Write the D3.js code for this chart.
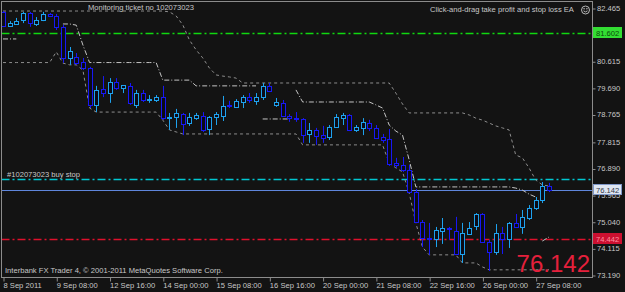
<!DOCTYPE html>
<html><head><meta charset="utf-8">
<script src="https://cdn.jsdelivr.net/npm/d3@7/dist/d3.min.js"></script>
<style>
html,body{margin:0;padding:0;background:#131313;}
svg{display:block;font-family:"Liberation Sans",Arial,sans-serif;}
</style></head>
<body>
<svg id="chart" width="625" height="292"></svg>
<script>
// ---- data (USDJPY-like H4 bars, 8 Sep 2011 00:00 .. 27 Sep 2011 16:00) ----
const open = [82.33,81.84,81.91,82.05,82.29,81.91,82.05,82.26,82.19,81.81,
80.73,80.76,80.59,80.38,79.10,79.65,79.51,79.90,79.69,79.76,
79.10,79.51,79.28,79.27,79.37,78.64,78.68,78.78,78.47,78.64,
78.71,78.26,78.68,78.71,79.08,79.03,79.20,79.37,79.24,79.37,
79.76,79.10,79.17,78.71,78.66,78.61,78.09,78.23,78.05,77.98,
78.33,78.64,78.75,78.23,78.30,78.47,78.30,77.98,77.92,77.08,
77.01,76.84,76.07,75.03,74.48,74.44,74.72,74.81,74.72,73.92,
74.62,74.89,75.31,74.34,73.99,74.65,74.44,75.00,74.86,75.17,
75.52,75.80,76.28];
const high = [82.36,82.01,82.12,82.33,82.33,82.15,82.33,82.29,82.26,81.88,
81.11,80.90,80.73,80.42,79.76,80.10,80.03,80.03,79.79,79.86,
79.62,79.62,79.44,79.44,79.76,78.82,78.96,78.82,78.82,78.82,
78.85,78.71,78.85,79.41,79.24,79.30,79.44,79.51,79.51,79.86,
79.86,79.34,79.27,78.78,78.85,78.64,78.47,78.30,78.37,78.40,
78.78,78.82,78.78,78.40,78.64,78.58,78.40,78.09,78.26,77.26,
77.29,77.01,76.18,75.10,75.00,74.86,75.17,74.86,75.21,75.00,
75.03,75.34,75.34,74.41,74.96,74.86,75.03,75.31,75.45,75.62,
75.90,76.42,76.39];
const low = [81.81,81.81,81.88,81.94,81.81,81.84,82.01,82.15,81.70,80.56,
80.49,80.49,80.31,78.99,78.85,79.37,79.17,79.62,79.51,79.10,
78.99,79.20,79.17,79.20,78.58,78.23,78.30,78.05,78.37,78.58,
78.16,78.05,78.40,78.54,78.99,78.99,78.99,79.17,79.10,79.27,
79.55,79.03,78.68,78.51,78.51,77.78,77.78,77.71,77.78,77.88,
78.30,78.40,78.19,78.16,78.05,78.19,77.92,77.78,76.98,76.91,
76.77,76.04,75.00,74.16,73.89,74.16,74.27,74.41,73.89,73.61,
74.58,74.75,74.30,73.33,73.89,73.92,74.13,74.82,74.62,75.10,
75.45,75.69,76.07];
const close = [81.84,81.94,82.01,82.29,81.94,82.05,82.26,82.19,81.81,80.73,
80.97,80.56,80.38,79.10,79.62,79.51,79.90,79.69,79.79,79.17,
79.51,79.27,79.31,79.37,78.64,78.68,78.82,78.44,78.68,78.75,
78.23,78.68,78.78,79.06,79.06,79.24,79.37,79.27,79.37,79.76,
79.58,79.20,78.71,78.64,78.64,78.05,78.23,78.02,77.95,78.33,
78.68,78.75,78.23,78.33,78.51,78.30,77.95,77.88,77.05,77.01,
76.84,76.07,75.03,74.48,74.46,74.75,74.82,74.77,73.92,74.65,
74.82,75.31,74.34,73.99,74.65,74.44,75.00,74.86,75.21,75.52,
75.80,76.28,76.142];

// channel indicator lines (one value per bar)
const upperChannel = [82.36,82.36,82.36,82.36,82.36,82.36,82.36,82.36,82.36,82.36,
82.36,82.36,82.36,82.36,82.36,82.36,82.36,82.36,82.36,82.36,
82.36,82.36,82.36,82.36,82.36,82.33,82.19,81.88,81.35,81.01,
80.73,80.38,80.14,80.10,80.07,80.03,79.86,79.86,79.86,79.86,
79.86,79.86,79.86,79.86,79.86,79.86,79.86,79.86,79.86,79.86,
79.86,79.86,79.86,79.86,79.86,79.86,79.86,79.86,79.86,79.51,
79.13,78.82,78.82,78.82,78.82,78.82,78.82,78.82,78.82,78.82,
78.75,78.64,78.57,78.47,78.37,78.30,78.23,77.36,77.26,76.91,
76.49,76.32,76.28];
const lowerChannel = [80.57,80.57,80.57,80.57,80.57,80.57,80.57,80.57,80.94,80.55,
80.49,80.49,80.31,78.99,78.85,78.85,78.85,78.85,78.85,78.85,
78.85,78.85,78.85,78.85,78.57,78.23,78.16,78.09,78.09,78.09,
78.09,78.09,78.09,78.09,78.09,78.09,78.09,78.09,78.09,78.09,
78.09,78.09,78.09,78.09,78.09,77.71,77.71,77.71,77.71,77.71,
77.71,77.71,77.71,77.71,77.71,77.71,77.71,77.71,77.08,76.91,
76.77,76.04,75.00,74.16,73.89,73.89,73.89,73.89,73.89,73.61,
73.61,73.61,73.47,73.37,73.37,73.37,73.37,73.37,73.37,73.37,
73.37,73.37,73.37];
const trailResist = [null,null,null,null,null,null,null,null,null,81.91,
81.91,81.87,81.18,80.57,80.57,80.57,80.57,80.57,80.57,80.57,
80.57,80.57,80.57,80.57,79.96,79.96,79.96,79.96,79.96,79.76,
79.76,79.76,79.76,79.76,79.76,79.76,79.76,79.76,79.76,null,
null,null,null,null,79.62,79.20,79.20,79.20,79.20,79.20,
79.20,79.20,79.20,79.20,79.20,79.20,79.10,78.99,78.40,78.19,
78.05,77.19,76.25,76.25,76.25,76.25,76.25,76.25,76.25,76.25,
76.25,76.25,76.25,76.25,76.25,76.25,76.25,76.21,76.14,76.00,
75.90,null,null];
const trailSupport = [81.39,81.39,81.39,null,null,null,null,null,null,null,
null,null,null,null,null,null,null,null,null,null,
null,null,null,null,null,null,null,null,null,null,
null,null,null,null,null,null,null,null,null,78.61,
78.61,78.61,78.61,78.61,null,null,null,null,null,null,
null,null,null,null,null,null,null,null,null,null,
null,null,null,null,null,null,null,null,null,null,
null,null,null,null,null,null,null,null,null,null,
null,74.37,74.51];

const xTickLabels = ["8 Sep 2011","9 Sep 08:00","12 Sep 16:00","14 Sep 00:00","15 Sep 08:00",
  "16 Sep 16:00","20 Sep 00:00","21 Sep 08:00","22 Sep 16:00","26 Sep 00:00","27 Sep 08:00"];
const xTickBars = [0,8,16,24,32,40,48,56,64,72,80];
// 81.540 sits fully under the take-profit box in the reference, so it is not listed
const yTickValues = [82.465,80.615,79.690,78.765,77.815,76.890,75.965,75.040,74.115,73.190];

const levelTakeProfit = 81.602;
const levelBuyStop = 76.515;
const levelBid = 76.142;
const levelStopLoss = 74.442;

// ---- drawing ----
const W = 625, H = 292;
const plotL = 1.5, plotR = 592.5, plotT = 1.5, plotB = 277.5;
const svg = d3.select("#chart");
const x = d3.scaleLinear().domain([0, close.length - 1]).range([3, 549]);
const y = d3.scaleLinear().domain([73.19, 82.465]).range([275, 8]);
const fmt = d3.format(".3f");
const txtCol = "#c8c8c8";

svg.append("rect").attr("width", W).attr("height", H).attr("fill", "#131313");

svg.append("defs").append("clipPath").attr("id","pc")
  .append("rect").attr("x", plotL).attr("y", plotT).attr("width", plotR-plotL).attr("height", plotB-plotT);
const plot = svg.append("g").attr("clip-path","url(#pc)");

const snap = v => Math.round(v) + 0.5;

// horizontal order lines
function hline(v, color, dash, width) {
  plot.append("line").attr("x1", plotL).attr("x2", plotR)
    .attr("y1", snap(y(v))).attr("y2", snap(y(v)))
    .attr("stroke", color).attr("stroke-width", width || 1)
    .attr("stroke-dasharray", dash || null);
}
hline(levelTakeProfit, "#10d810", "8,3,2,3", 1.3);
hline(levelBuyStop, "#00c8d2", "8,3,2,3", 1.3);
hline(levelStopLoss, "#e0102c", "8,3,2,3", 1.3);
hline(levelBid, "#5f86dc", null);

// channel lines
const lineGen = d3.line().defined(d => d != null).x((d, i) => x(i)).y(d => y(d));
plot.append("path").attr("d", lineGen(upperChannel)).attr("fill","none")
  .attr("stroke","#8e8e8e").attr("stroke-dasharray","3,3");
plot.append("path").attr("d", lineGen(lowerChannel)).attr("fill","none")
  .attr("stroke","#8e8e8e").attr("stroke-dasharray","3,3");
plot.append("path").attr("d", lineGen(trailResist)).attr("fill","none")
  .attr("stroke","#c4c4c4").attr("stroke-dasharray","5,2,1,2");
plot.append("path").attr("d", lineGen(trailSupport)).attr("fill","none")
  .attr("stroke","#c4c4c4").attr("stroke-dasharray","5,2,1,2");

// candles
const bullCol = "#1ea2ee", bearCol = "#1818f4";
const candles = plot.append("g").selectAll("g").data(close.map((c, i) => ({i, o: open[i], h: high[i], l: low[i], c})))
  .join("g");
candles.append("line")
  .attr("x1", d => snap(x(d.i))).attr("x2", d => snap(x(d.i)))
  .attr("y1", d => y(d.h)).attr("y2", d => y(d.l))
  .attr("stroke", d => d.c > d.o ? bullCol : bearCol);
candles.append("rect")
  .attr("x", d => snap(x(d.i)) - 2)
  .attr("width", 4)
  .attr("y", d => Math.round(y(Math.max(d.o, d.c))) + 0.5)
  .attr("height", d => Math.max(1, Math.round(Math.abs(y(d.o) - y(d.c)))))
  .attr("fill", "#0b0b16")
  .attr("stroke", d => d.c > d.o ? bullCol : bearCol);

// frame
svg.append("rect").attr("x", plotL).attr("y", plotT).attr("width", plotR-plotL).attr("height", plotB-plotT)
  .attr("fill","none").attr("stroke","#8c8c8c");

// y axis
const yAxis = svg.append("g").attr("transform", `translate(${plotR},0)`)
  .call(d3.axisRight(y).tickValues(yTickValues).tickSize(3).tickFormat(fmt));
yAxis.select(".domain").remove();
yAxis.selectAll(".tick line").attr("stroke","#8c8c8c").attr("transform","translate(0,0.5)");
yAxis.selectAll(".tick text").attr("fill", txtCol).attr("font-size","7.6px")
  .attr("x", 4.5).attr("dy", "0.32em").attr("font-family","Liberation Sans, Arial, sans-serif");

// x axis
const xAxis = svg.append("g").attr("transform", `translate(0,${plotB})`)
  .call(d3.axisBottom(x).tickValues(xTickBars).tickSize(4).tickFormat((d, i) => xTickLabels[i]));
xAxis.select(".domain").remove();
xAxis.selectAll(".tick line").attr("stroke","#8c8c8c").attr("transform","translate(0.5,0)");
xAxis.selectAll(".tick text").attr("fill", txtCol).attr("font-size","7.6px")
  .attr("text-anchor","start").attr("y", 10.5).attr("dy", null).attr("x", 0)
  .attr("font-family","Liberation Sans, Arial, sans-serif");

// price label boxes on the axis
function priceBox(v, bg, fg, border) {
  const yy = Math.round(y(v));
  svg.append("rect").attr("x", 593.5).attr("y", yy - 5.5).attr("width", 28).attr("height", 10)
    .attr("fill", bg).attr("stroke", border || bg);
  svg.append("text").attr("x", 596).attr("y", yy + 3).attr("fill", fg)
    .attr("font-size","7.6px").text(fmt(v));
}
priceBox(levelTakeProfit, "#33dd33", "#0a4a0a");
priceBox(levelBid, "#dfe6f2", "#303848", "#7f97c8");
priceBox(levelStopLoss, "#cc1030", "#ff8fa0");

// texts
svg.append("text").attr("x", 88).attr("y", 9.5).attr("fill", txtCol).attr("font-size","7.6px")
  .text("Monitoring ticket no 102073023");
svg.append("text").attr("x", 430).attr("y", 12).attr("fill", txtCol).attr("font-size","7.6px")
  .text("Click-and-drag take profit and stop loss EA");
// smiley icon
const sm = svg.append("g").attr("transform","translate(585.5,10)").attr("fill","none").attr("stroke","#b8b8b8");
sm.append("circle").attr("r", 4);
sm.append("path").attr("d","M-2,0.8 Q0,3 2,0.8");
sm.append("circle").attr("cx",-1.4).attr("cy",-1.2).attr("r",0.4);
sm.append("circle").attr("cx",1.4).attr("cy",-1.2).attr("r",0.4);

svg.append("text").attr("x", 7).attr("y", y(levelBuyStop) - 2.5).attr("fill", txtCol).attr("font-size","7.6px")
  .text("#102073023 buy stop");
svg.append("text").attr("x", 5).attr("y", 273).attr("fill", txtCol).attr("font-size","7.6px")
  .text("Interbank FX Trader 4, \u00a9 2001-2011 MetaQuotes Software Corp.");
svg.append("text").attr("x", 590).attr("y", 271.5).attr("text-anchor","end").attr("fill","#e5203c")
  .attr("font-size","24px").text(fmt(levelBid));
</script>
</body></html>
